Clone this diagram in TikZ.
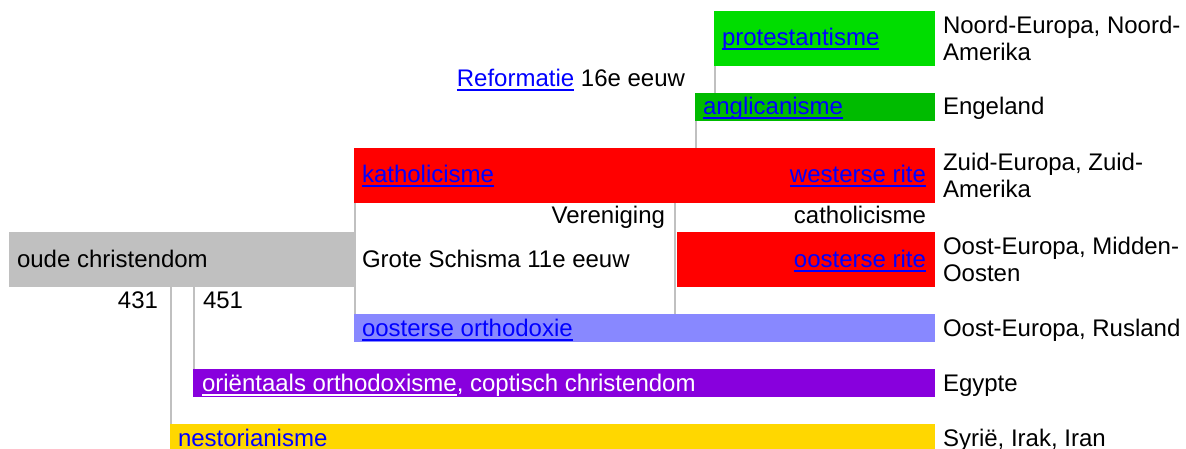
\documentclass[tikz,border=0pt]{standalone}
\usepackage{fontspec}
\setmainfont{Liberation Sans}
\definecolor{grnA}{HTML}{00DD00}
\definecolor{grnB}{HTML}{00BB00}
\definecolor{redA}{HTML}{FF0000}
\definecolor{grayA}{HTML}{C0C0C0}
\definecolor{lavA}{HTML}{8888FF}
\definecolor{purA}{HTML}{8800DD}
\definecolor{goldA}{HTML}{FFD700}
\definecolor{linkblue}{HTML}{0000FF}
\definecolor{lineg}{HTML}{C0C0C0}
\newsavebox\lnkbox
\newcommand\lnk[1]{\sbox\lnkbox{#1}\rlap{\rule[-4.5pt]{\wd\lnkbox}{2pt}}\usebox\lnkbox}
\begin{document}
\begin{tikzpicture}[x=1pt,y=-1pt,
  every node/.style={inner sep=0pt, outer sep=0pt, font=\fontsize{24}{27.7}\selectfont},
  bar/.style={fill=#1, draw=none, anchor=north west},
  lt/.style={anchor=base west},
  rt/.style={anchor=base east},
  link/.style={text=linkblue},
  conn/.style={draw=lineg, line width=2pt}]
\useasboundingbox (0,0) rectangle (1186,449);
% bars
\node[bar=grnA, minimum width=221pt, minimum height=55pt] (prot) at (714,11) {};
\node[bar=grnB, minimum width=240pt, minimum height=28pt] (ang) at (695,93) {};
\node[bar=redA, minimum width=581pt, minimum height=55pt] (kath) at (354,148) {};
\node[bar=redA, minimum width=258pt, minimum height=55pt] (orite) at (677,232) {};
\node[bar=grayA, minimum width=345pt, minimum height=55pt] (oude) at (9,232) {};
\node[bar=lavA, minimum width=581pt, minimum height=28pt] (orth) at (354,314) {};
\node[bar=purA, minimum width=742pt, minimum height=28pt] (orient) at (193,369) {};
\node[bar=goldA, minimum width=765pt, minimum height=28pt] (nest) at (170,424) {};
% connectors
\coordinate (c1) at ([xshift=1pt]prot.south west);
\draw[conn] (c1) -- (c1 |- ang.north);
\coordinate (c2) at ([xshift=1pt]ang.south west);
\draw[conn] (c2) -- (c2 |- kath.north);
\coordinate (c3) at ([xshift=1pt]kath.south west);
\draw[conn] (c3) -- (c3 |- orth.north);
\coordinate (c4) at ([xshift=-2pt]orite.north west);
\draw[conn] (c4 |- kath.south) -- (c4 |- orth.north);
\coordinate (c5) at ([xshift=1pt]nest.north west);
\draw[conn] (c5 |- oude.south) -- (c5);
\coordinate (c6) at ([xshift=1pt]orient.north west);
\draw[conn] (c6 |- oude.south) -- (c6);
% labels in bars
\node[lt, link] (tprot) at (722,46) {\lnk{protestantisme}};
\node[lt, link] (tang) at (703,115) {\lnk{anglicanisme}};
\node[lt, link] (tkath) at (362,183) {\lnk{katholicisme}};
\node[rt, link] (twest) at (926,183) {\lnk{westerse rite}};
\node[rt] (tref) at (685,87) {{\color{linkblue}\lnk{Reformatie}} 16e eeuw};
\node[rt] (tver) at (665,224) {Vereniging};
\node[rt] (tcath) at (926,224) {catholicisme};
\node[lt] (tschism) at (362,267) {Grote Schisma 11e eeuw};
\node[rt, link] (torite) at (926,267) {\lnk{oosterse rite}};
\node[lt] (toude) at (17,267) {oude christendom};
\node[rt] (t431) at (158,308) {431};
\node[lt] (t451) at (203,308) {451};
\node[lt, link] (torth) at (362,336) {\lnk{oosterse orthodoxie}};
\node[lt, text=white] (torient) at (202,391) {\lnk{oriëntaals orthodoxisme}, coptisch christendom};
\node[lt, link] (tnest) at (178,446.5) {\lnk{nestorianisme}};
% right column
\node[anchor=west, align=left] (r1) at (943,38.5) {Noord-Europa, Noord-\\Amerika};
\node[lt] (r2) at (943,115) {Engeland};
\node[anchor=west, align=left] (r3) at (943,175.5) {Zuid-Europa, Zuid-\\Amerika};
\node[anchor=west, align=left] (r4) at (943,259.5) {Oost-Europa, Midden-\\Oosten};
\node[lt] (r5) at (943,336) {Oost-Europa, Rusland};
\node[lt] (r6) at (943,391) {Egypte};
\node[lt] (r7) at (943,446.5) {Syrië, Irak, Iran};
\end{tikzpicture}
\end{document}
